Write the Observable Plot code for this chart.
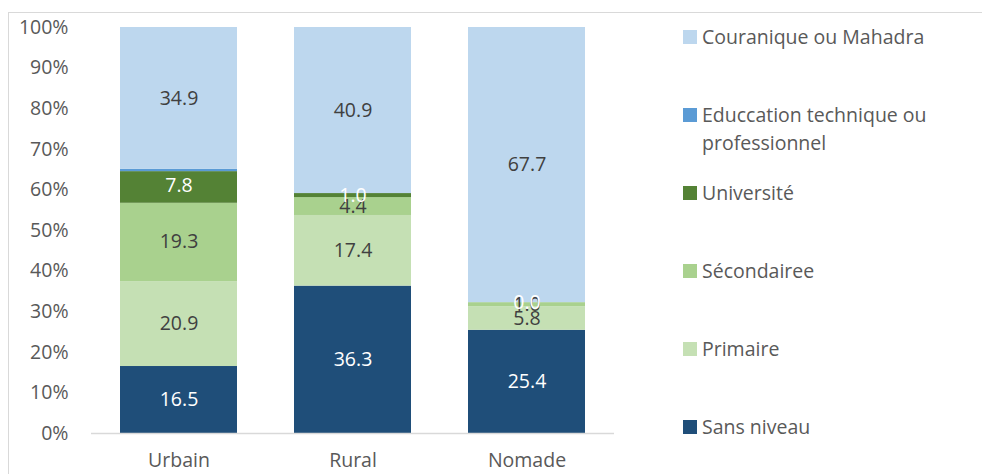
<!DOCTYPE html>
<html>
<head>
<meta charset="utf-8">
<script src="https://cdn.jsdelivr.net/npm/d3@7"></script>
<script src="https://cdn.jsdelivr.net/npm/@observablehq/plot@0.6"></script>
<style>
  html, body { margin: 0; padding: 0; background: #fff; }
  #wrap { position: relative; width: 982px; height: 474px; overflow: hidden; font-family: "Open Sans", Lato, sans-serif; }
  #frame { position: absolute; left: 8px; top: 12px; width: 1200px; height: 800px; border: 1px solid #d9d9d9; }
  #chart { position: absolute; left: 0; top: 0; }
  #legend { position: absolute; left: 0; top: 0; width: 982px; height: 474px; }
  .item { position: absolute; left: 683px; display: flex; align-items: flex-start; color: #595959; font-size: 19.5px; line-height: 28px; }
  .sw { width: 14px; height: 14px; margin-top: 7px; margin-right: 5px; flex: none; }
</style>
</head>
<body>
<div id="wrap">
  <div id="frame"></div>
  <div id="chart"></div>
  <div id="legend"></div>
</div>
<script>
const categories = ["Urbain", "Rural", "Nomade"];
const series = ["Sans niveau", "Primaire", "Sécondairee", "Université", "Educcation technique ou professionnel", "Couranique ou Mahadra"];
const colors = ["#1F4E79", "#C5E0B4", "#A9D18E", "#548235", "#5B9BD5", "#BDD7EE"];
const labelColors = ["#ffffff", "#404040", "#404040", "#ffffff", "#ffffff", "#404040"];
const sansNiveau = [16.5, 36.3, 25.4];
const primaire = [20.9, 17.4, 5.8];
const secondaire = [19.3, 4.4, 1.0];
const universite = [7.8, 1.0, 0.0];
const technique = [0.6, 0.0, 0.0];
const couranique = [34.9, 40.9, 67.7];
const yTicks = [0, 10, 20, 30, 40, 50, 60, 70, 80, 90, 100];

const values = [sansNiveau, primaire, secondaire, universite, technique, couranique];
const data = [];
series.forEach((s, i) => {
  categories.forEach((c, j) => {
    data.push({ series: s, cat: c, value: values[i][j], si: i });
  });
});

const chart = Plot.plot({
  width: 982,
  height: 474,
  marginLeft: 91,
  marginRight: 368,
  marginTop: 27,
  marginBottom: 41,
  style: { fontFamily: "'Open Sans', Lato, sans-serif", fontSize: "19.5px", color: "#595959", background: "transparent" },
  x: { domain: categories, paddingInner: 0.33, paddingOuter: 0.165, label: null, tickSize: 0, tickPadding: 20 },
  y: { percent: true, domain: [0, 100], ticks: yTicks, tickFormat: d => d + "%", label: null, tickSize: 0, tickPadding: 23 },
  color: { domain: series, range: colors },
  marks: [
    Plot.barY(data, Plot.stackY({ offset: "normalize", x: "cat", y: "value", z: "series", fill: "series" })),
    Plot.ruleY([0], { stroke: "#d9d9d9", strokeWidth: 1.3 }),
    Plot.text(data.filter(d => d.si !== 4), Plot.stackY({ offset: "normalize", x: "cat", y: "value", z: "series", text: d => d.value.toFixed(1), fill: d => labelColors[d.si], fontSize: 19.5 }))
  ]
});
document.getElementById("chart").appendChild(chart);

const legendPos = [
  { s: 5, y: 37 },
  { s: 4, y: 115 },
  { s: 3, y: 193 },
  { s: 2, y: 271 },
  { s: 1, y: 349 },
  { s: 0, y: 427 }
];
const leg = document.getElementById("legend");
legendPos.forEach(p => {
  const it = document.createElement("div");
  it.className = "item";
  it.style.top = (p.y - 14) + "px";
  const sw = document.createElement("div");
  sw.className = "sw";
  sw.style.background = colors[p.s];
  const tx = document.createElement("div");
  tx.textContent = series[p.s];
  if (p.s === 4) tx.style.width = "270px";
  it.appendChild(sw);
  it.appendChild(tx);
  leg.appendChild(it);
});
</script>
</body>
</html>
